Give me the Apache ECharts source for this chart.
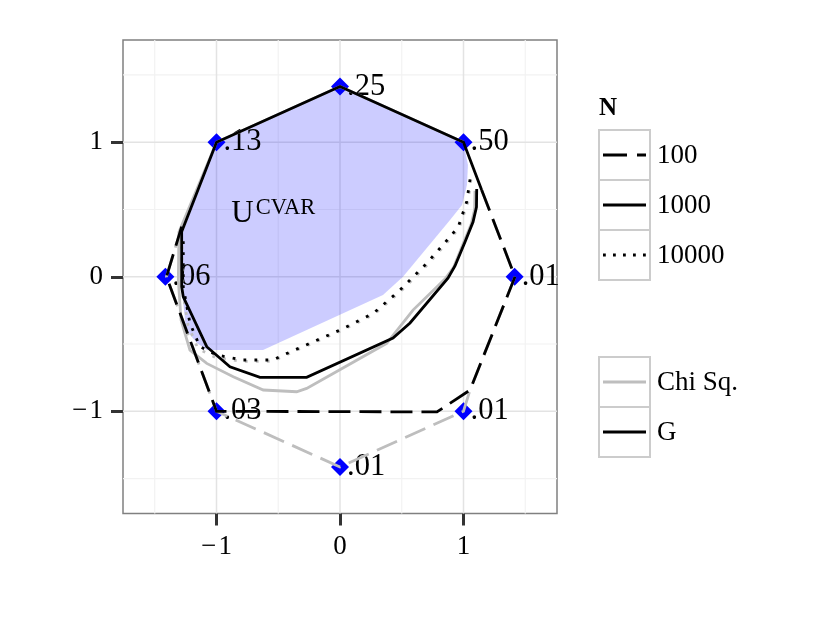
<!DOCTYPE html>
<html><head><meta charset="utf-8">
<script src="https://cdn.jsdelivr.net/npm/echarts@6/dist/echarts.min.js"></script>
<style>html,body{margin:0;padding:0;background:#fff}#c{width:830px;height:620px}</style>
</head><body><div id="c"></div>
<script>
// ---- data ----
const xMajor = [-1, 0, 1];
const xMinor = [-1.5, -0.5, 0.5, 1.5];
const yMajor = [-1, 0, 1];
const yMinor = [-1.5, -0.5, 0.5, 1.5];
const xTickLabels = ['\u2212\u200a1', '0', '1'];
const yTickLabels = ['\u2212\u200a1', '0', '1'];

const pointX = [0, 1, 1.414, 1, 0, -1, -1.414, -1];
const pointY = [1.414, 1, 0, -1, -1.414, -1, 0, 1];
const pointLabels = ['.25', '.50', '.01', '.01', '.01', '.03', '.06', '.13'];

const regionCVAR = [[-1,1],[0,1.414],[1,1],[1.036,0.83],[1.028,0.682],[0.988,0.533],[0.891,0.422],[0.51,0.0],[0.348,-0.136],[-0.623,-0.545],[-1.077,-0.545],[-1.158,-0.493],[-1.247,-0.396],[-1.271,-0.173],[-1.271,0.332]];

const chi100 = [[1.147,0.645],[1.417,0],[1.053,-0.842],[1,-1],[0,-1.414],[-1,-1],[-1.405,0],[-1.282,0.372]];
const chi1000 = [[1.093,0.640],[1.09,0.5],[1.062,0.39],[0.997,0.245],[0.92,0.07],[0.85,-0.017],[0.591,-0.248],[0.378,-0.495],[-0.270,-0.830],[-0.351,-0.855],[-0.621,-0.842],[-0.864,-0.743],[-1.079,-0.644],[-1.215,-0.545],[-1.287,-0.322],[-1.309,-0.025],[-1.304,0.332],[-1,1],[0,1.414],[1,1]];
const chi10000 = [[1.06,0.72],[1.035,0.55],[0.965,0.365],[0.9,0.29],[0.71,0.09],[0.49,-0.11],[0.275,-0.28],[0,-0.405],[-0.46,-0.59],[-0.54,-0.628],[-0.79,-0.63],[-1.01,-0.6],[-1.15,-0.535],[-1.23,-0.36],[-1.279,-0.08],[-1.279,0.28]];

const g100 = [[1.147,0.645],[1.417,0],[1.053,-0.842],[0.785,-1.005],[-1,-1],[-1.405,0],[-1.282,0.372]];
const g1000 = [[1.107,0.652],[1.105,0.518],[1.077,0.407],[1.012,0.258],[0.931,0.080],[0.874,-0.010],[0.567,-0.344],[0.429,-0.456],[-0.270,-0.748],[-0.648,-0.748],[-0.891,-0.669],[-1.079,-0.520],[-1.269,-0.149],[-1.282,-0.074],[-1.282,0.335],[-1,1],[0,1.414],[1,1],[1.147,0.645]];
const g10000 = [[1.053,0.724],[1.026,0.558],[0.958,0.372],[0.891,0.297],[0.702,0.100],[0.486,-0.099],[0.270,-0.272],[0,-0.396],[-0.459,-0.582],[-0.540,-0.619],[-0.783,-0.619],[-0.998,-0.582],[-1.134,-0.520],[-1.215,-0.346],[-1.269,-0.074],[-1.269,0.286]];

const annotation = [[-0.88, 0.474]];
const legendN = ['100', '1000', '10000'];
const legendStat = ['Chi Sq.', 'G'];

// ---- styling ----
const X_MIN = -1.757, X_MAX = 1.757, Y_MIN = -1.76, Y_MAX = 1.76;
const FONT = '"Liberation Serif", "DejaVu Serif", serif';
const GREY = '#bebebe';
const DASH = [22, 9];
const DOT = [2.8, 8.2];
const LW = 2.8;

const chart = echarts.init(document.getElementById('c'), null, {renderer: 'canvas'});

function gridSeries(vals, vertical, color, width) {
  return {
    type: 'custom', z: 1, silent: true,
    data: vals.map(v => vertical ? [v, 0] : [0, v]),
    renderItem: function (params, api) {
      let p1, p2;
      if (vertical) { const v = api.value(0); p1 = api.coord([v, Y_MIN]); p2 = api.coord([v, Y_MAX]); }
      else { const v = api.value(1); p1 = api.coord([X_MIN, v]); p2 = api.coord([X_MAX, v]); }
      return {type: 'line', shape: {x1: p1[0], y1: p1[1], x2: p2[0], y2: p2[1]}, style: {stroke: color, lineWidth: width}};
    }
  };
}

function lineSeries(data, color, type, z) {
  return {
    type: 'line', data: data, showSymbol: false, symbol: 'none', silent: true, z: z,
    lineStyle: {color: color, width: LW, type: type, cap: 'butt', join: 'miter'}
  };
}

const legendGraphics = [];
legendGraphics.push({type: 'text', x: 599, y: 109, style: {text: 'N', font: 'bold 25px ' + FONT, fill: '#000', verticalAlign: 'middle'}});
const nTypes = ['dashed', 'solid', 'dotted'];
legendN.forEach((lab, i) => {
  const y0 = 130 + i * 50;
  legendGraphics.push({type: 'rect', shape: {x: 599, y: y0, width: 51, height: 50}, style: {fill: '#fff', stroke: '#cccccc', lineWidth: 2}});
  const ld = nTypes[i] === 'dashed' ? [24, 10] : (nTypes[i] === 'dotted' ? [2.8, 7.2] : null);
  legendGraphics.push({type: 'line', shape: {x1: 603, y1: y0 + 25, x2: 646, y2: y0 + 25}, style: {stroke: '#000', lineWidth: LW, lineDash: ld}});
  legendGraphics.push({type: 'text', x: 657, y: y0 + 26, style: {text: lab, font: '27px ' + FONT, fill: '#000', verticalAlign: 'middle'}});
});
const statColors = [GREY, '#000'];
legendStat.forEach((lab, i) => {
  const y0 = 357 + i * 50;
  legendGraphics.push({type: 'rect', shape: {x: 599, y: y0, width: 51, height: 50}, style: {fill: '#fff', stroke: '#cccccc', lineWidth: 2}});
  legendGraphics.push({type: 'line', shape: {x1: 603, y1: y0 + 25, x2: 646, y2: y0 + 25}, style: {stroke: statColors[i], lineWidth: LW}});
  legendGraphics.push({type: 'text', x: 657, y: y0 + 26, style: {text: lab, font: '27px ' + FONT, fill: '#000', verticalAlign: 'middle'}});
});

const option = {
  animation: false,
  backgroundColor: '#fff',
  grid: {left: 123, top: 40, right: 273, bottom: 106.5, show: true, borderColor: '#808080', borderWidth: 1.5, backgroundColor: '#fff'},
  xAxis: {
    type: 'value', min: X_MIN, max: X_MAX,
    splitLine: {show: false}, axisLine: {show: false, onZero: false},
    axisTick: {show: true, length: 12, lineStyle: {color: '#333', width: 3}, customValues: xMajor},
    axisLabel: {show: true, customValues: xMajor, margin: 20, fontSize: 27, fontFamily: FONT, color: '#000',
      formatter: v => xTickLabels[xMajor.indexOf(Math.round(v * 1000) / 1000)] ?? ''}
  },
  yAxis: {
    type: 'value', min: Y_MIN, max: Y_MAX,
    splitLine: {show: false}, axisLine: {show: false, onZero: false},
    axisTick: {show: true, length: 12, lineStyle: {color: '#333', width: 3}, customValues: yMajor},
    axisLabel: {show: true, customValues: yMajor, margin: 20, fontSize: 27, fontFamily: FONT, color: '#000',
      formatter: v => yTickLabels[yMajor.indexOf(Math.round(v * 1000) / 1000)] ?? ''}
  },
  graphic: legendGraphics,
  series: [
    gridSeries(xMinor, true, '#f2f2f2', 1.2),
    gridSeries(yMinor, false, '#f2f2f2', 1.2),
    gridSeries(xMajor, true, '#e3e3e3', 1.5),
    gridSeries(yMajor, false, '#e3e3e3', 1.5),
    {
      type: 'custom', z: 2, silent: true, data: [[0, 0]],
      renderItem: function (params, api) {
        const pts = regionCVAR.map(p => api.coord(p));
        return {type: 'polygon', shape: {points: pts}, style: {fill: 'rgba(0,0,255,0.2)'}};
      }
    },
    {
      type: 'scatter', z: 3, silent: true, symbol: 'diamond', symbolSize: 18,
      itemStyle: {color: '#0000ff', opacity: 1},
      data: pointX.map((x, i) => [x, pointY[i]]),
      label: {show: true, position: [16, 9], align: 'left', verticalAlign: 'middle',
        formatter: p => pointLabels[p.dataIndex], fontSize: 30.5, fontFamily: FONT, color: '#000'}
    },
    {
      type: 'scatter', z: 3, silent: true, symbolSize: 0, data: annotation,
      itemStyle: {opacity: 1},
      label: {show: true, position: [0, 0], align: 'left', verticalAlign: 'middle',
        formatter: '{u|U}{s|CVAR}',
        rich: {u: {fontSize: 31, lineHeight: 32, fontFamily: FONT, color: '#000', verticalAlign: 'bottom'},
               s: {fontSize: 22.5, lineHeight: 14, fontFamily: FONT, color: '#000', verticalAlign: 'top', padding: [0, 0, 0, 2]}}}
    },
    lineSeries(chi100, GREY, DASH, 4),
    lineSeries(chi1000, GREY, 'solid', 4),
    lineSeries(chi10000, GREY, DOT, 4),
    lineSeries(g100, '#000', DASH, 5),
    lineSeries(g1000, '#000', 'solid', 5),
    lineSeries(g10000, '#000', DOT, 5)
  ]
};
chart.setOption(option);
</script></body></html>
